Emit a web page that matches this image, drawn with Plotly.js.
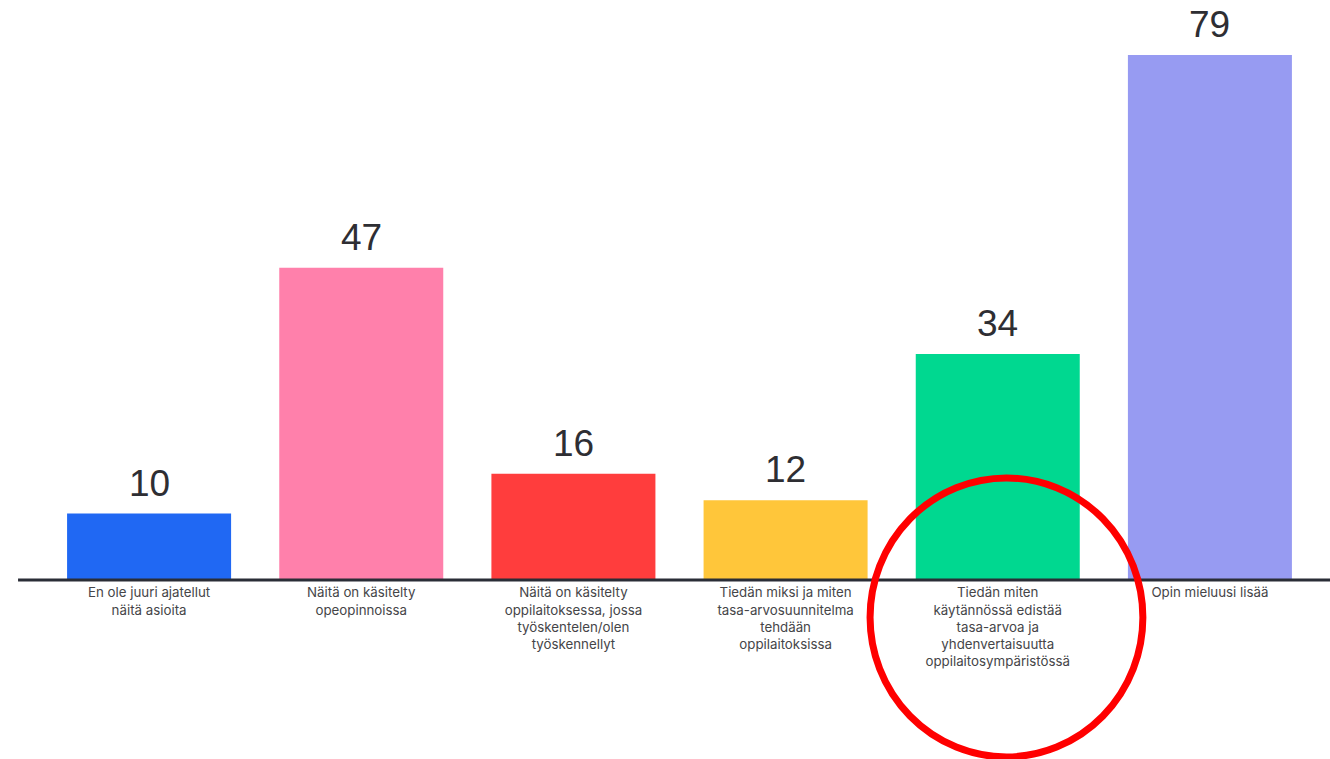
<!DOCTYPE html>
<html><head><meta charset="utf-8">
<script src="https://cdn.plot.ly/plotly-3.0.1.min.js"></script>
<style>html,body{margin:0;padding:0;background:#fff}#chart{width:1330px;height:759px}</style>
</head><body><div id="chart"></div>
<script>
const categories = [
  "En ole juuri ajatellut<br>näitä asioita",
  "Näitä on käsitelty<br>opeopinnoissa",
  "Näitä on käsitelty<br>oppilaitoksessa, jossa<br>työskentelen/olen<br>työskennellyt",
  "Tiedän miksi ja miten<br>tasa-arvosuunnitelma<br>tehdään<br>oppilaitoksissa",
  "Tiedän miten<br>käytännössä edistää<br>tasa-arvoa ja<br>yhdenvertaisuutta<br>oppilaitosympäristössä",
  "Opin mieluusi lisää"
];
const values = [10, 47, 16, 12, 34, 79];
const colors = ["#2068f3", "#ff80ab", "#ff3d3d", "#ffc63a", "#00d890", "#979bf2"];

const trace = {
  type: "bar",
  x: categories,
  y: values,
  marker: {color: colors, line: {width: 0}},
  hoverinfo: "skip"
};

const labelAnnotations = values.map((v, i) => ({
  x: categories[i], y: v, xref: "x", yref: "y",
  text: String(v), showarrow: false,
  yanchor: "bottom", yshift: 8,
  font: {family: "Liberation Sans, Arial, sans-serif", size: 37, color: "#2e2e33"}
}));

const layout = {
  width: 1330, height: 759,
  margin: {l: 43, r: 14, t: 0, b: 179},
  paper_bgcolor: "#ffffff", plot_bgcolor: "#ffffff",
  bargap: 0.227,
  showlegend: false,
  xaxis: {
    type: "category",
    showgrid: false, zeroline: false, showline: false,
    ticks: "", ticklen: 0,
    ticklabelstandoff: 3,
    tickfont: {family: "Inter, Noto Sans, sans-serif", size: 13.3, color: "#454548"},
    fixedrange: true
  },
  yaxis: {
    range: [0, 87.27],
    showgrid: false, zeroline: false, showline: false,
    showticklabels: false, ticks: "",
    fixedrange: true
  },
  annotations: labelAnnotations,
  shapes: [
    {type: "line", xref: "paper", yref: "paper", x0: -0.0196, x1: 1.012, y0: 0, y1: 0,
     line: {color: "#2a2d36", width: 3}},
    {type: "circle", xref: "paper", yref: "paper", x0: 0.6497, x1: 0.864, y0: -0.305, y1: 0.176,
     line: {color: "#ff0000", width: 7}}
  ]
};

Plotly.newPlot("chart", [trace], layout, {displayModeBar: false, staticPlot: true});
</script>
</body></html>
